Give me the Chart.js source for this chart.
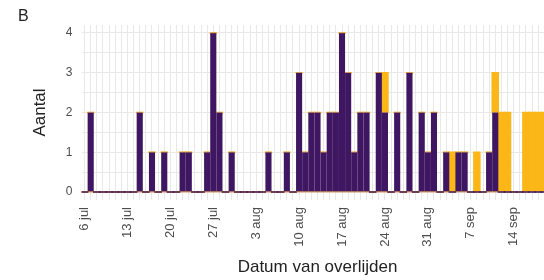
<!DOCTYPE html>
<html><head><meta charset="utf-8">
<script src="https://cdn.jsdelivr.net/npm/chart.js@4.4.1/dist/chart.umd.min.js"></script>
<style>
html,body{margin:0;padding:0;background:#fff;overflow:hidden;width:544px;height:280px}
#wrap{width:560px;height:280px;overflow:hidden}
canvas{display:block;width:560px;height:280px}
</style></head>
<body><div id="wrap"><canvas id="c" width="560" height="280"></canvas></div>
<script>
const categories = [
 '6 jul','7 jul','8 jul','9 jul','10 jul','11 jul','12 jul','13 jul','14 jul','15 jul',
 '16 jul','17 jul','18 jul','19 jul','20 jul','21 jul','22 jul','23 jul','24 jul','25 jul',
 '26 jul','27 jul','28 jul','29 jul','30 jul','31 jul','1 aug','2 aug','3 aug','4 aug',
 '5 aug','6 aug','7 aug','8 aug','9 aug','10 aug','11 aug','12 aug','13 aug','14 aug',
 '15 aug','16 aug','17 aug','18 aug','19 aug','20 aug','21 aug','22 aug','23 aug','24 aug',
 '25 aug','26 aug','27 aug','28 aug','29 aug','30 aug','31 aug','1 sep','2 sep','3 sep',
 '4 sep','5 sep','6 sep','7 sep','8 sep','9 sep','10 sep','11 sep','12 sep','13 sep',
 '14 sep','15 sep','16 sep','17 sep','18 sep','19 sep','20 sep'
];
const xTickLabels = ['6 jul','13 jul','20 jul','27 jul','3 aug','10 aug','17 aug','24 aug','31 aug','7 sep','14 sep'];
const yTickValues = [0,0.5,1,1.5,2,2.5,3,3.5,4];
const yTickLabels = ['0','1','2','3','4'];
const eerderGemeld = [
 0,2,0,0,0,0,0,0,0,2,
 0,1,0,1,0,0,1,1,0,0,
 1,4,2,0,1,0,0,0,0,0,
 1,0,0,1,0,3,1,2,2,1,
 2,2,4,3,1,2,2,0,3,2,
 0,2,0,3,0,2,1,2,0,1,
 0,1,1,0,0,0,1,2,0,0,
 0,0,0,0,0,0,0
];
const nieuwGemeld = [
 0,0,0,0,0,0,0,0,0,0,
 0,0,0,0,0,0,0,0,0,0,
 0,0,0,0,0,0,0,0,0,0,
 0,0,0,0,0,0,0,0,0,0,
 0,0,0,0,0,0,0,0,0,1,
 0,0,0,0,0,0,0,0,0,0,
 1,0,0,0,1,0,0,1,2,2,
 0,0,2,2,2,2,2
];

const PURPLE = '#3f1661';
const YELLOW = '#fbb617';
const ORANGE = '#cf9660';
const GRID = '#e8e8e8';
const FONT = "'Liberation Sans', Arial, sans-serif";

new Chart(document.getElementById('c'), {
  type: 'bar',
  data: {
    labels: categories,
    datasets: [
      { label: 'Eerder gemeld', data: eerderGemeld, backgroundColor: PURPLE,
        borderColor: ORANGE, borderWidth: {top: 1, left: 0, right: 0, bottom: 0}, borderSkipped: false,
        inflateAmount: 0.7, categoryPercentage: 1, barPercentage: 1 },
      { label: 'Nieuw gemeld', data: nieuwGemeld, backgroundColor: YELLOW,
        borderWidth: 0, inflateAmount: 0.7, categoryPercentage: 1, barPercentage: 1 }
    ]
  },
  options: {
    responsive: false,
    animation: false,
    devicePixelRatio: 1,
    layout: { padding: { left: 18, right: 6.5, top: 0, bottom: 0 } },
    plugins: {
      legend: { display: false },
      tooltip: { enabled: false },
      title: { display: true, text: 'B', align: 'start', color: '#222',
        font: { family: FONT, size: 16, weight: 'normal', lineHeight: 1 }, padding: { top: 9, bottom: 0 } }
    },
    scales: {
      x: {
        type: 'category', stacked: true, offset: true,
        grid: { offset: false, color: GRID, lineWidth: 1, drawTicks: false },
        border: { display: false },
        ticks: {
          autoSkip: false, minRotation: 90, maxRotation: 90, padding: 7,
          color: '#4d4d4d', font: { family: FONT, size: 13 },
          callback: function (v) { const l = this.getLabelForValue(v); return xTickLabels.includes(l) ? l : ''; }
        },
        title: { display: true, text: 'Datum van overlijden', color: '#222',
          font: { family: FONT, size: 17 }, padding: { top: 0, bottom: 2 } },
        afterFit: (s) => { s.height = 80; s.paddingRight = 0; s.paddingLeft = 0; }
      },
      y: {
        type: 'linear', stacked: true, min: -0.2, max: 4.2,
        afterBuildTicks: (s) => { s.ticks = yTickValues.map(v => ({ value: v })); },
        grid: {
          drawTicks: false,
          color: (ctx) => (ctx.tick && ctx.tick.value === 0) ? ORANGE : GRID,
          lineWidth: (ctx) => (ctx.tick && ctx.tick.value === 0) ? 1.5 : 1
        },
        border: { display: false },
        ticks: {
          padding: 9, color: '#4d4d4d', font: { family: FONT, size: 12 },
          callback: (v) => { const s = String(v); return yTickLabels.includes(s) ? s : ''; }
        },
        title: { display: true, text: 'Aantal', color: '#222',
          font: { family: FONT, size: 17 }, padding: { top: 12, bottom: 0 } },
        afterFit: (s) => { s.width = 63.5; }
      }
    }
  }
});
</script>
</body></html>
